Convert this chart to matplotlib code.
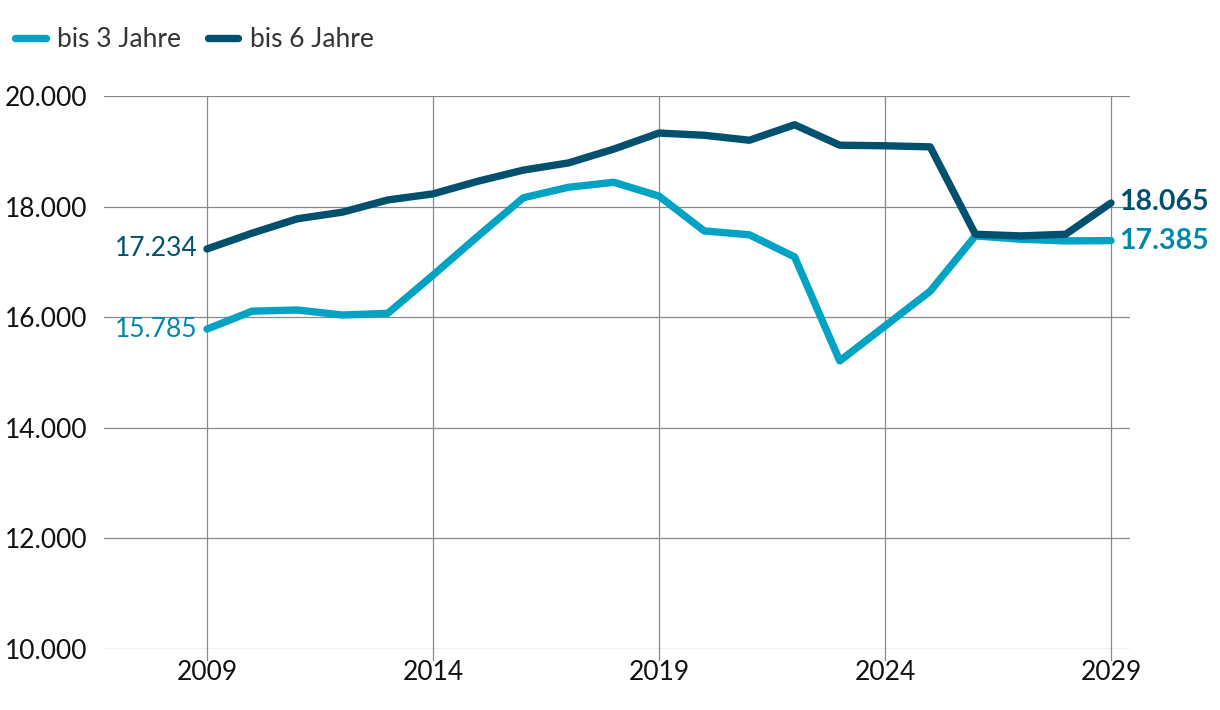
import matplotlib
matplotlib.use("Agg")
import matplotlib.pyplot as plt
from matplotlib.lines import Line2D

plt.rcParams['font.family'] = ['Lato', 'DejaVu Sans']

years = list(range(2009, 2030))
bis3 = [15785, 16110, 16130, 16040, 16070, 16760, 17470, 18160, 18350, 18440,
        18190, 17560, 17490, 17090, 15210, 15840, 16470, 17470, 17410, 17380, 17385]
bis6 = [17234, 17520, 17780, 17900, 18120, 18230, 18460, 18660, 18790, 19040,
        19330, 19290, 19200, 19480, 19110, 19100, 19080, 17500, 17470, 17500, 18065]
series_names = ['bis 3 Jahre', 'bis 6 Jahre']
x_ticks = [2009, 2014, 2019, 2024, 2029]
y_ticks = [10000, 12000, 14000, 16000, 18000, 20000]

light = '#00a3c4'
dark = '#00506e'
light_text = '#0088a8'
fs = 19


def fmt(v):
    return f'{v:,}'.replace(',', '.')


fig = plt.figure(figsize=(12.2, 7.1), dpi=100)
ax = fig.add_axes([0.0852, 0.0859, 0.841, 0.7789])

ax.plot(years, bis3, color=light, lw=5.3, solid_capstyle='round', solid_joinstyle='round', zorder=3)
ax.plot(years, bis6, color=dark, lw=5.3, solid_capstyle='round', solid_joinstyle='round', zorder=4)

ax.set_xlim(2006.72, 2029.42)
ax.set_ylim(10000, 20000)
ax.set_xticks(x_ticks)
ax.set_yticks(y_ticks)
ax.set_yticklabels([fmt(v) for v in y_ticks])
ax.tick_params(length=0, labelsize=fs, pad=8, colors='#111111')
ax.tick_params(axis='y', pad=12)
for s in ax.spines.values():
    s.set_visible(False)
ax.grid(True, color='#8a8a8a', lw=0.9)
ax.set_axisbelow(True)
# vertical grid lines drop a bit below the axis
for xt in x_ticks:
    ax.plot([xt, xt], [10000, 9800], color='#8a8a8a', lw=0.9, clip_on=False, zorder=1)

# start labels
ax.annotate(fmt(bis6[0]), (years[0], bis6[0]), xytext=(-7, 0), textcoords='offset points',
            ha='right', va='center', fontsize=fs, color=dark)
ax.annotate(fmt(bis3[0]), (years[0], bis3[0]), xytext=(-7, 0), textcoords='offset points',
            ha='right', va='center', fontsize=fs, color=light_text)
# end labels
ax.annotate(fmt(bis6[-1]), (years[-1], bis6[-1]), xytext=(6, 1), textcoords='offset points',
            ha='left', va='center', fontsize=20.5, color=dark, fontweight='bold')
ax.annotate(fmt(bis3[-1]), (years[-1], bis3[-1]), xytext=(6, 0), textcoords='offset points',
            ha='left', va='center', fontsize=20.5, color=light_text, fontweight='bold')

handles = [Line2D([], [], color=light, lw=5.3, solid_capstyle='round'),
           Line2D([], [], color=dark, lw=5.3, solid_capstyle='round')]
fig.legend(handles, series_names, loc='upper left', bbox_to_anchor=(-0.007, 0.995), ncol=2,
           frameon=False, fontsize=fs, handlelength=1.15, handletextpad=0.45,
           columnspacing=1.0, labelcolor='#333333')

fig.savefig('out.png', dpi=100)
